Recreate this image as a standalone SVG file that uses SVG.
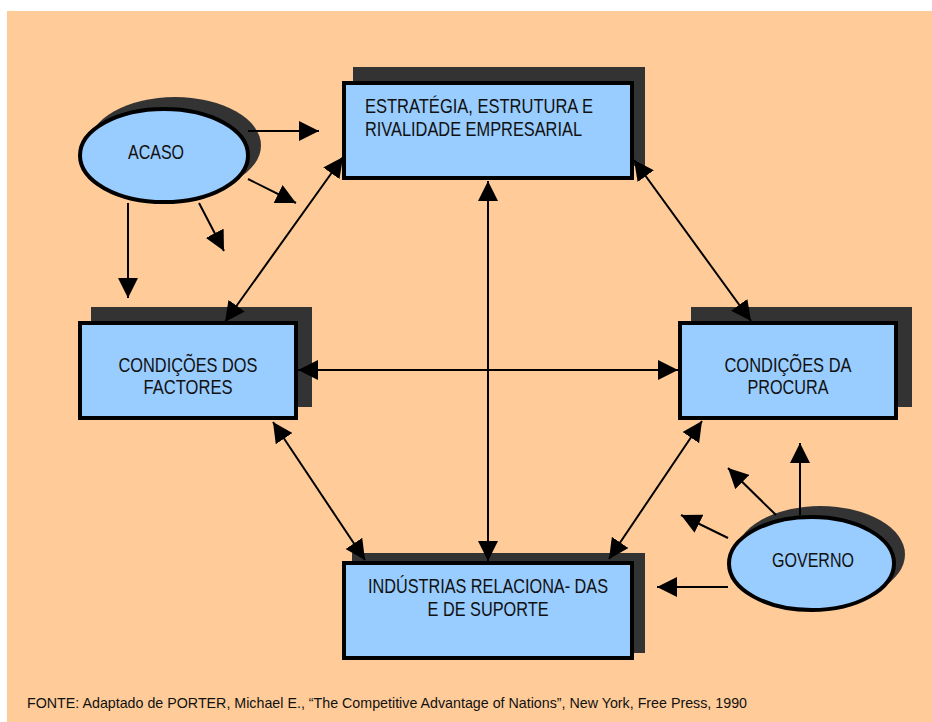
<svg xmlns="http://www.w3.org/2000/svg" width="932" height="722" viewBox="0 0 932 722">
<style>
.bg{fill:#FFCC99}
.shadow{fill:#333333}
.box{fill:#99CCFF;stroke:#000;stroke-width:4}
.lbl{font-family:"Liberation Sans",Arial,sans-serif;font-size:19.5px;fill:#111}
.mid{text-anchor:middle}
.conn line{stroke:#000;stroke-width:2;fill:none}
.foot{font-family:"Liberation Sans",Arial,sans-serif;font-size:15px;fill:#111}
</style>
<defs>
<marker id="ah" markerUnits="userSpaceOnUse" markerWidth="20" markerHeight="20" refX="20" refY="10" orient="auto-start-reverse" viewBox="0 0 20 20">
<path d="M0,0 L20,10 L0,20 z" fill="#000"/>
</marker>
</defs>
<rect class="bg" x="7" y="11" width="925" height="711"/>

<g id="estrategia">
<rect class="shadow" x="353" y="67" width="292" height="99"/>
<rect class="box" x="344" y="83" width="288" height="95"/>
<text class="lbl" x="365" y="113" textLength="228" lengthAdjust="spacingAndGlyphs">ESTRATÉGIA, ESTRUTURA E</text>
<text class="lbl" x="365" y="136" textLength="217" lengthAdjust="spacingAndGlyphs">RIVALIDADE EMPRESARIAL</text>
</g>

<g id="factores">
<rect class="shadow" x="91" y="307" width="221" height="100"/>
<rect class="box" x="80" y="323" width="216" height="95"/>
<text class="lbl mid" x="188" y="372" textLength="139" lengthAdjust="spacingAndGlyphs">CONDIÇÕES DOS</text>
<text class="lbl mid" x="188" y="394" textLength="89" lengthAdjust="spacingAndGlyphs">FACTORES</text>
</g>

<g id="procura">
<rect class="shadow" x="691" y="307" width="221" height="100"/>
<rect class="box" x="680" y="323" width="216" height="95"/>
<text class="lbl mid" x="788" y="372" textLength="127" lengthAdjust="spacingAndGlyphs">CONDIÇÕES DA</text>
<text class="lbl mid" x="788" y="394" textLength="81" lengthAdjust="spacingAndGlyphs">PROCURA</text>
</g>

<g id="industrias">
<rect class="shadow" x="352" y="553" width="293" height="100"/>
<rect class="box" x="344" y="563" width="288" height="95"/>
<text class="lbl mid" x="488" y="593" textLength="240" lengthAdjust="spacingAndGlyphs">INDÚSTRIAS RELACIONA- DAS</text>
<text class="lbl mid" x="488" y="616" textLength="121" lengthAdjust="spacingAndGlyphs">E DE SUPORTE</text>
</g>

<g id="acaso">
<ellipse class="shadow" cx="175" cy="145.5" rx="86" ry="48.5"/>
<ellipse class="box" cx="164" cy="155.5" rx="84" ry="46.5"/>
<text class="lbl mid" x="156" y="159" textLength="56" lengthAdjust="spacingAndGlyphs">ACASO</text>
</g>

<g id="governo">
<ellipse class="shadow" cx="820.5" cy="554.5" rx="84.5" ry="48.5"/>
<ellipse class="box" cx="811.5" cy="563.5" rx="82.5" ry="46.5"/>
<text class="lbl mid" x="813" y="567" textLength="82" lengthAdjust="spacingAndGlyphs">GOVERNO</text>
</g>

<g id="connectors" class="conn">
<line x1="248" y1="131" x2="319" y2="131" marker-end="url(#ah)"/>
<line x1="248" y1="179" x2="296" y2="203" marker-end="url(#ah)"/>
<line x1="199" y1="203" x2="224" y2="251" marker-end="url(#ah)"/>
<line x1="128" y1="203" x2="128" y2="298" marker-end="url(#ah)"/>
<line x1="343" y1="157" x2="225" y2="322" marker-start="url(#ah)" marker-end="url(#ah)"/>
<line x1="634" y1="160" x2="751" y2="321" marker-start="url(#ah)" marker-end="url(#ah)"/>
<line x1="298" y1="370" x2="678" y2="370" marker-start="url(#ah)" marker-end="url(#ah)"/>
<line x1="488" y1="181" x2="488" y2="561" marker-start="url(#ah)" marker-end="url(#ah)"/>
<line x1="273" y1="422" x2="365" y2="560" marker-start="url(#ah)" marker-end="url(#ah)"/>
<line x1="702" y1="421" x2="609" y2="559" marker-start="url(#ah)" marker-end="url(#ah)"/>
<line x1="800" y1="515" x2="800" y2="443" marker-end="url(#ah)"/>
<line x1="776" y1="515" x2="728" y2="468" marker-end="url(#ah)"/>
<line x1="728" y1="538" x2="681" y2="515" marker-end="url(#ah)"/>
<line x1="728" y1="587" x2="657" y2="587" marker-end="url(#ah)"/>
</g>

<text class="foot" x="27" y="708" textLength="720" lengthAdjust="spacingAndGlyphs">FONTE: Adaptado de PORTER, Michael E., “The Competitive Advantage of Nations”, New York, Free Press, 1990</text>
</svg>
